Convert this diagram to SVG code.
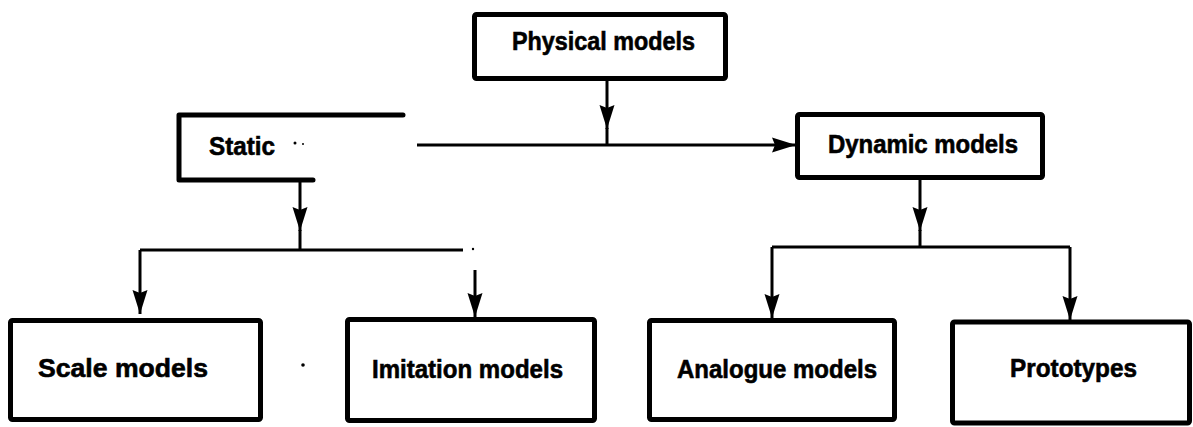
<svg xmlns="http://www.w3.org/2000/svg" width="1193" height="427" viewBox="0 0 1193 427">
  <style>
    .box { fill: none; stroke: #000; stroke-width: 5; stroke-linejoin: round; stroke-linecap: round; }
    .link { fill: none; stroke: #000; stroke-width: 3; stroke-linecap: butt; }
    .lbl { font-family: "Liberation Sans", Arial, sans-serif; font-weight: bold; font-size: 26px; fill: #000; stroke: #000; stroke-width: 0.6; }
    .speck { fill: #000; }
  </style>
  <defs>
    <marker id="arrow" viewBox="0 0 24 16" refX="24" refY="8" markerWidth="24" markerHeight="16" markerUnits="userSpaceOnUse" orient="auto">
      <path d="M0,0.5 L24,8 L0,15.5 L3,8 z" fill="#000"/>
    </marker>
  </defs>
  <rect width="1193" height="427" fill="#fff"/>

  <g id="connectors">
    <!-- Physical models down to the branch line -->
    <path class="link" d="M607,80 V129" marker-end="url(#arrow)"/>
    <path class="link" d="M607,128 V146"/>
    <!-- Branch line across to Dynamic models -->
    <path class="link" d="M417,145 H796" marker-end="url(#arrow)"/>
    <!-- Static down to its split -->
    <path class="link" d="M300,180 V231" marker-end="url(#arrow)"/>
    <path class="link" d="M300,230 V251"/>
    <path class="link" d="M140,250 H463"/>
    <path class="link" d="M140,250 V314" marker-end="url(#arrow)"/>
    <path class="link" d="M475,270 V317" marker-end="url(#arrow)"/>
    <!-- Dynamic models down to its split -->
    <path class="link" d="M920,180 V231" marker-end="url(#arrow)"/>
    <path class="link" d="M920,230 V248"/>
    <path class="link" d="M772,247 H1070"/>
    <path class="link" d="M772,247 V318" marker-end="url(#arrow)"/>
    <path class="link" d="M1070,247 V320" marker-end="url(#arrow)"/>
  </g>

  <g id="physical">
    <rect class="box" x="474.5" y="14.5" width="251" height="64" rx="2"/>
    <text class="lbl" x="512" y="50" textLength="183" lengthAdjust="spacingAndGlyphs">Physical models</text>
  </g>

  <g id="static">
    <path class="box" d="M403,115 H179 V180 H313"/>
    <text class="lbl" x="209" y="155" textLength="66" lengthAdjust="spacingAndGlyphs">Static</text>
    <circle class="speck" cx="295" cy="143" r="1.5"/>
    <circle class="speck" cx="303" cy="144" r="1"/>
  </g>

  <g id="dynamic">
    <rect class="box" x="797.5" y="114.5" width="245" height="63" rx="2"/>
    <text class="lbl" x="828" y="153" textLength="190" lengthAdjust="spacingAndGlyphs">Dynamic models</text>
  </g>

  <g id="scale">
    <rect class="box" x="10.5" y="320.5" width="250" height="99" rx="2"/>
    <text class="lbl" x="38" y="377" textLength="170" lengthAdjust="spacingAndGlyphs">Scale models</text>
  </g>

  <g id="imitation">
    <rect class="box" x="347.5" y="319.5" width="247" height="101" rx="2"/>
    <text class="lbl" x="372" y="378" textLength="191" lengthAdjust="spacingAndGlyphs">Imitation models</text>
  </g>

  <g id="analogue">
    <rect class="box" x="649.5" y="320.5" width="245" height="99" rx="2"/>
    <text class="lbl" x="677" y="378" textLength="200" lengthAdjust="spacingAndGlyphs">Analogue models</text>
  </g>

  <g id="prototypes">
    <rect class="box" x="952.5" y="322" width="237" height="101" rx="2"/>
    <text class="lbl" x="1010" y="377" textLength="127" lengthAdjust="spacingAndGlyphs">Prototypes</text>
  </g>

  <!-- stray specks -->
  <circle class="speck" cx="473" cy="249" r="1.2"/>
  <circle class="speck" cx="303" cy="365" r="1.8"/>
</svg>
